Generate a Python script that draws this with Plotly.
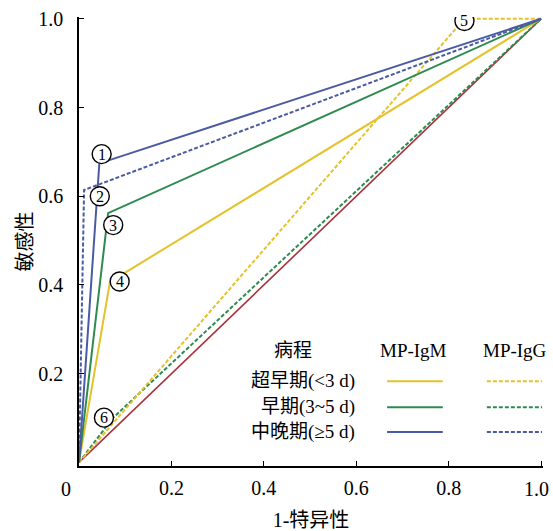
import plotly.graph_objects as go

# ROC curve points (1-specificity, sensitivity)
series_names = ["超早期 IgM", "超早期 IgG", "早期 IgM", "早期 IgG", "中晚期 IgM", "中晚期 IgG"]
ultra_igm_x = [0, 0.067, 1]
ultra_igm_y = [0, 0.407, 1]
ultra_igg_x = [0, 0.834, 1]
ultra_igg_y = [0, 1.0, 1]
early_igm_x = [0, 0.063, 1]
early_igm_y = [0, 0.562, 1]
early_igg_x = [0, 0.073, 1]
early_igg_y = [0, 0.100, 1]
late_igm_x = [0, 0.044, 1]
late_igm_y = [0, 0.674, 1]
late_igg_x = [0, 0.011, 1]
late_igg_y = [0, 0.614, 1]
ref_x = [0, 1]
ref_y = [0, 1]

# circled point labels
point_labels = ["1", "2", "3", "4", "5", "6"]
label_x = [0.049, 0.045, 0.074, 0.088, 0.834, 0.054]
label_y = [0.695, 0.600, 0.535, 0.408, 0.995, 0.101]

tick_vals = [0.2, 0.4, 0.6, 0.8, 1.0]
tick_text = ["0.2", "0.4", "0.6", "0.8", "1.0"]
x_tick_text = ["0.2", "0.4", "0.6", "0.8", ""]  # last x label drawn as annotation, nudged left

legend_header = ["病程", "MP-IgM", "MP-IgG"]
legend_rows = ["超早期(<3 d)", "早期(3~5 d)", "中晚期(≥5 d)"]

YELLOW = "#e5c22c"
GREEN = "#2e8b50"
BLUE = "#4b5ba3"
RED = "#a8323e"
DASH = "4px,2px"
SERIF = "Liberation Serif, Noto Sans CJK SC"

fig = go.Figure()
fig.add_trace(go.Scatter(x=ref_x, y=ref_y, mode="lines", line=dict(color=RED, width=1.6), showlegend=False))
for x, y, c, d in [
    (early_igg_x, early_igg_y, GREEN, DASH),
    (ultra_igg_x, ultra_igg_y, YELLOW, DASH),
    (ultra_igm_x, ultra_igm_y, YELLOW, "solid"),
    (early_igm_x, early_igm_y, GREEN, "solid"),
    (late_igg_x, late_igg_y, BLUE, DASH),
    (late_igm_x, late_igm_y, BLUE, "solid"),
]:
    fig.add_trace(go.Scatter(x=x, y=y, mode="lines", line=dict(color=c, width=2, dash=d), showlegend=False))

shapes = []
annotations = []
r = 9.5
for t, lx, ly in zip(point_labels, label_x, label_y):
    shapes.append(dict(type="circle", xref="x", yref="y", xsizemode="pixel", ysizemode="pixel",
                       xanchor=lx, yanchor=ly, x0=-r, x1=r, y0=-r, y1=r,
                       fillcolor="white", line=dict(color="black", width=1.4), layer="above"))
    annotations.append(dict(x=lx, y=ly, xref="x", yref="y", text=t, showarrow=False,
                            xanchor="center", yanchor="middle",
                            font=dict(family=SERIF, size=16, color="black")))

# legend (paper coordinates)
head_x = [0.461, 0.720, 0.940]
head_y = 0.258
row_y = [0.189, 0.131, 0.076]
row_colors = [YELLOW, GREEN, BLUE]
for t, hx in zip(legend_header, head_x):
    annotations.append(dict(x=hx, y=head_y, xref="paper", yref="paper", text=t, showarrow=False,
                            xanchor="center", yanchor="middle",
                            font=dict(family=SERIF, size=19, color="black")))
for t, ry, c in zip(legend_rows, row_y, row_colors):
    annotations.append(dict(x=0.600, y=ry, xref="paper", yref="paper", text=t, showarrow=False,
                            xanchor="right", yanchor="middle",
                            font=dict(family=SERIF, size=19, color="black")))
    shapes.append(dict(type="line", xref="paper", yref="paper", x0=0.664, x1=0.784, y0=ry, y1=ry,
                       line=dict(color=c, width=2)))
    shapes.append(dict(type="line", xref="paper", yref="paper", x0=0.879, x1=0.998, y0=ry, y1=ry,
                       line=dict(color=c, width=2, dash=DASH)))

# origin label and last x tick label
annotations.append(dict(x=0, y=0, xref="x", yref="paper", text="0", showarrow=False,
                        xanchor="center", yanchor="middle",
                        xshift=-13, yshift=-23, font=dict(family=SERIF, size=20, color="black")))
annotations.append(dict(x=tick_vals[-1], y=0, xref="x", yref="paper", text=tick_text[-1], showarrow=False,
                        xanchor="center", yanchor="middle",
                        xshift=-5, yshift=-23, font=dict(family=SERIF, size=20, color="black")))

fig.update_layout(
    width=553, height=531,
    margin=dict(l=79, r=10, t=17, b=65, autoexpand=False),
    paper_bgcolor="white", plot_bgcolor="white",
    shapes=shapes, annotations=annotations,
    xaxis=dict(range=[0, 1.004], tickvals=tick_vals, ticktext=x_tick_text, ticks="inside", ticklen=5,
               tickcolor="black", showline=True, linecolor="black", linewidth=1.5, showgrid=False,
               zeroline=False, automargin=False, ticklabeloverflow="allow", ticklabelstandoff=3,
               tickfont=dict(family=SERIF, size=20, color="black"),
               title=dict(text="1-特异性", font=dict(family=SERIF, size=20, color="black"), standoff=16)),
    yaxis=dict(range=[-0.008, 1.004], tickvals=tick_vals, ticktext=tick_text, ticks="inside", ticklen=5,
               tickcolor="black", showline=True, linecolor="black", linewidth=1.5, showgrid=False,
               zeroline=False, automargin=False, ticklabeloverflow="allow", ticklabelstandoff=10,
               tickfont=dict(family=SERIF, size=20, color="black"),
               title=dict(text="敏感性", font=dict(family=SERIF, size=20, color="black"), standoff=0)),
)

# remove the page's default body margin so the 553x531 figure fills the window exactly
fig.write_html("out.html", config={"displayModeBar": False},
               post_script="document.body.style.margin='0';document.body.style.overflow='hidden';")
